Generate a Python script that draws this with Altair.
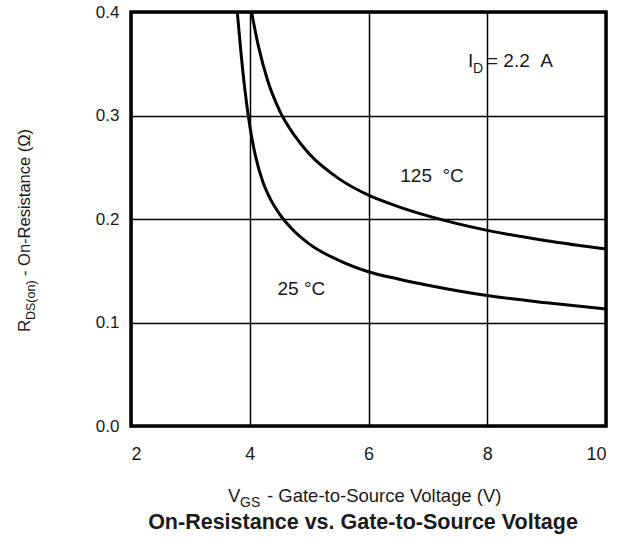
import altair as alt
import pandas as pd

# 25 °C curve
v25 = [3.79, 3.85, 3.92, 4.00, 4.10, 4.22, 4.35, 4.50, 4.70, 5.00, 5.50, 6.00, 6.50, 7.00, 8.00, 9.00, 10.0]
r25 = [0.400, 0.362, 0.324, 0.290, 0.260, 0.236, 0.219, 0.205, 0.191, 0.176, 0.160, 0.149, 0.142, 0.136, 0.126, 0.119, 0.113]
# 125 °C curve
v125 = [4.03, 4.15, 4.30, 4.50, 4.75, 5.00, 5.50, 6.00, 6.50, 7.00, 8.00, 9.00, 10.0]
r125 = [0.400, 0.366, 0.334, 0.305, 0.281, 0.263, 0.239, 0.223, 0.212, 0.203, 0.189, 0.179, 0.171]

x_ticks = [2, 4, 6, 8, 10]
y_ticks = [0.0, 0.1, 0.2, 0.3, 0.4]

labels = ["125\u00a0\u00a0°C", "25 °C"]
label_v = [7.07, 4.87]
label_r = [0.242, 0.132]

FONT = "Liberation Sans"
COL = "#1a1a1a"
W, H = 475, 414
L, T = 131, 12

df = pd.concat([
    pd.DataFrame({"V": v25, "R": r25, "T": "25"}),
    pd.DataFrame({"V": v125, "R": r125, "T": "125"}),
])

xs = alt.Scale(domain=[2, 10], nice=False)
ys = alt.Scale(domain=[0, 0.4], nice=False)

lines = alt.Chart(df).mark_line(color="black", strokeWidth=3, interpolate="monotone", clip=True).encode(
    x=alt.X("V:Q", scale=xs, axis=alt.Axis(values=x_ticks, title=None, grid=True, gridColor="black",
                                          gridWidth=1.5, gridOpacity=1, ticks=False, domain=False,
                                          labelFont=FONT, labelFontSize=18, labelColor=COL,
                                          labelPadding=19, format="d")),
    y=alt.Y("R:Q", scale=ys, axis=alt.Axis(values=y_ticks, title=None, grid=True, gridColor="black",
                                          gridWidth=1.5, gridOpacity=1, ticks=False, domain=False,
                                          labelFont=FONT, labelFontSize=17, labelColor=COL,
                                          labelPadding=12, format=".1f")),
    detail="T:N",
)

frame = alt.Chart(pd.DataFrame({"a": [0]})).mark_rect(fill=None, stroke="black", strokeWidth=3.5).encode(
    x=alt.value(0), x2=alt.value(W), y=alt.value(0), y2=alt.value(H))

lab_df = pd.DataFrame({"V": label_v, "R": label_r, "L": labels})
lab = alt.Chart(lab_df).mark_text(font=FONT, fontSize=19, color=COL).encode(
    x=alt.X("V:Q", scale=xs), y=alt.Y("R:Q", scale=ys), text="L:N")


def txt(s, x, y, size=16, bold=False, angle=0, align="left", baseline="alphabetic"):
    kw = dict(font=FONT, fontSize=size, color=COL, align=align, baseline=baseline, text=s)
    if bold:
        kw["fontWeight"] = "bold"
    if angle:
        kw["angle"] = angle
    return alt.Chart(pd.DataFrame({"a": [0]})).mark_text(**kw).encode(x=alt.value(x - L), y=alt.value(y - T))


# I_D = 2.2 A annotation (page pixel positions)
ann = [
    txt("I", 468, 67, size=19),
    txt("D", 473, 73, size=14),
    txt("=\u00a02.2\u00a0\u00a0A", 487, 67, size=19),
]

# x axis title and caption
xt = [
    txt("V", 228, 502, size=18.5),
    txt("GS", 240, 507, size=14),
    txt("- Gate-to-Source Voltage (V)", 267, 502, size=18.5),
    txt("On-Resistance vs. Gate-to-Source Voltage", 363, 529, size=21.5, bold=True, align="center"),
]

# y axis title (rotated)
yt = [
    txt("R", 30, 332, size=17, angle=270),
    txt("DS(on)", 35, 320, size=12.5, angle=270),
    txt("- On-Resistance (Ω)", 30, 276, size=16.5, angle=270),
]

chart = alt.layer(lines, frame, lab, *ann, *xt, *yt).properties(
    width=W, height=H,
    autosize=alt.AutoSizeParams(type="none"),
    padding={"left": L, "top": T, "right": 628 - L - W, "bottom": 538 - T - H},
).configure_view(stroke=None).configure(background="white")

chart.save("out.html", embed_options={"renderer": "svg", "actions": False})
